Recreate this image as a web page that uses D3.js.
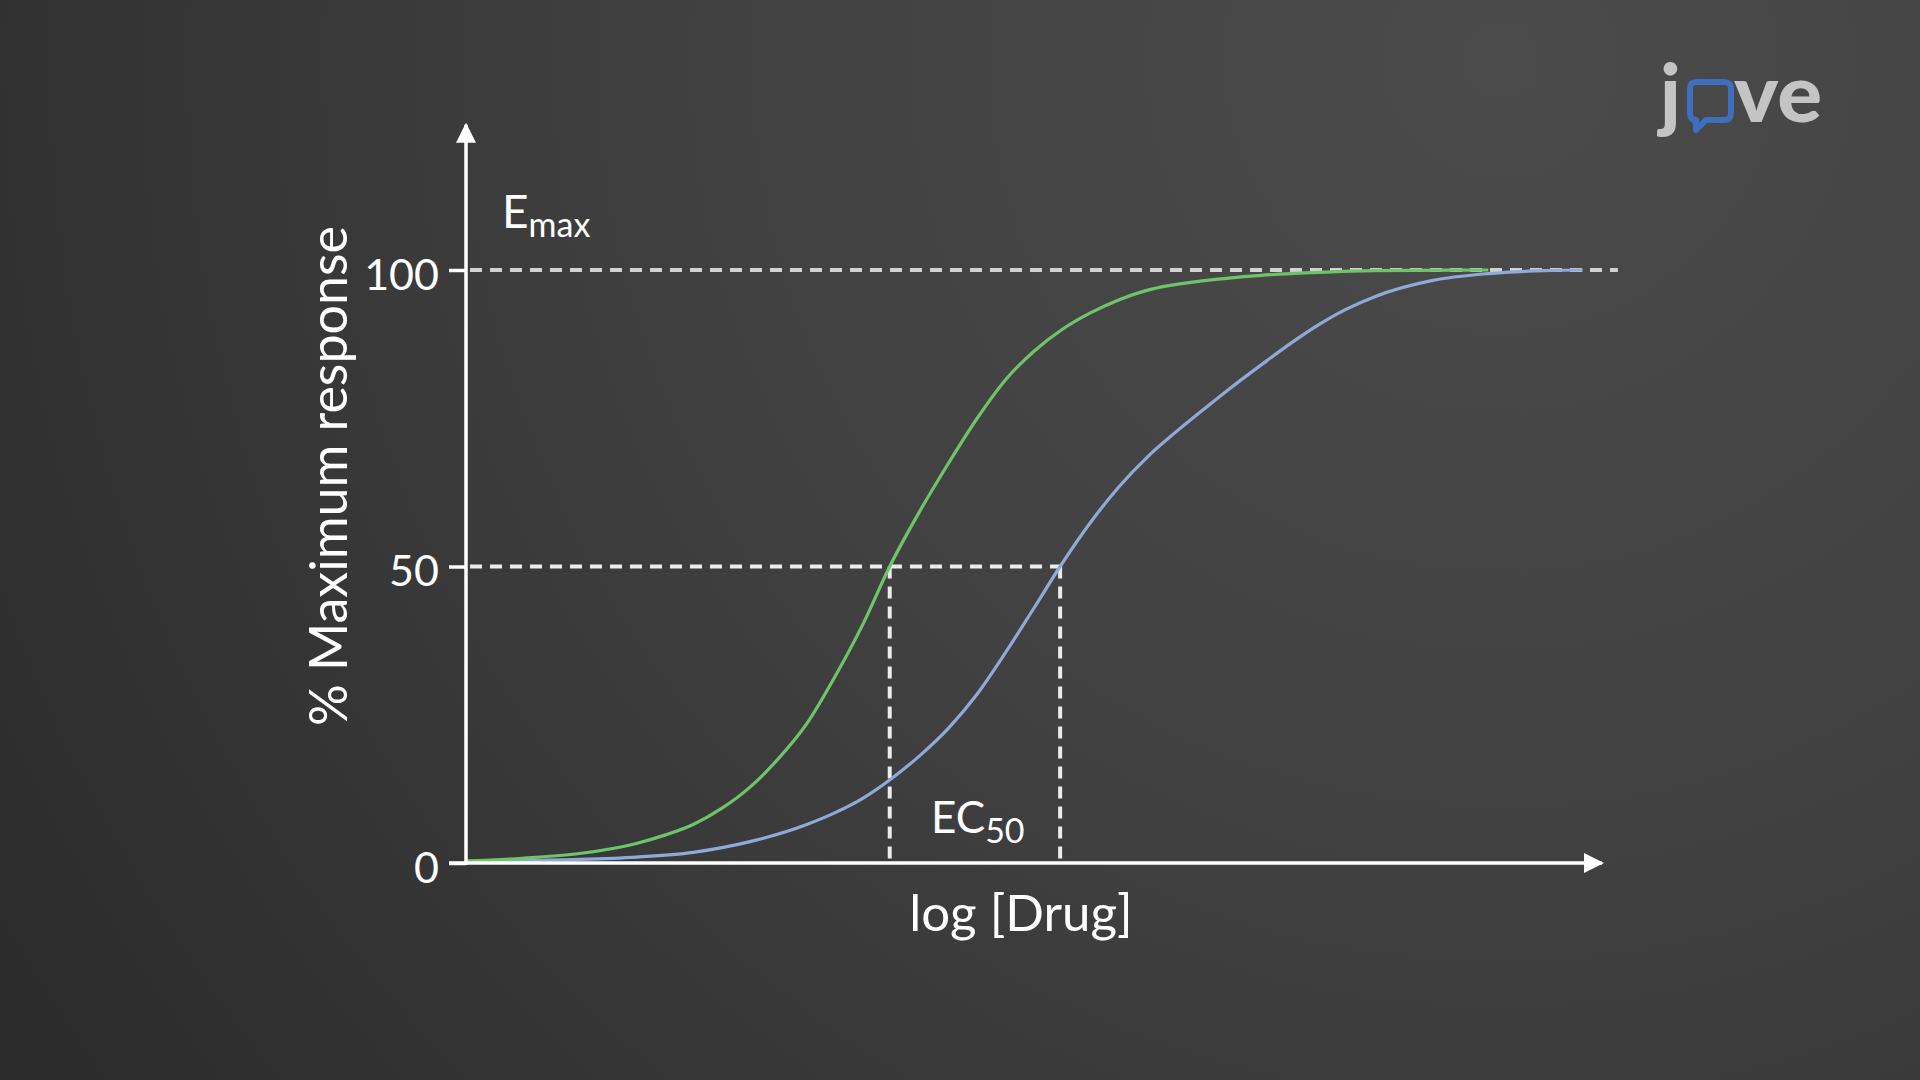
<!DOCTYPE html>
<html>
<head>
<meta charset="utf-8">
<script src="https://cdn.jsdelivr.net/npm/d3@7"></script>
<style>
  html, body { margin: 0; padding: 0; background: #3a3a3a; }
  svg { display: block; }
  text { font-family: Lato, "Open Sans", sans-serif; }
</style>
</head>
<body>
<script>
// ---- data (log[Drug] in arbitrary units, response in % of max) ----
const greenX = [0.0, 0.5, 1.0, 1.5, 1.75, 2.0, 2.25, 2.5, 2.75, 3.0, 3.25, 3.5, 3.73, 4.0, 4.25, 4.5, 4.75, 5.0, 5.25, 5.5, 5.75, 6.0, 6.5, 7.0, 7.5, 8.0, 9.0];
const greenY = [0.3, 0.8, 1.6, 3.3, 4.7, 6.5, 9.2, 12.8, 17.6, 23.5, 31.5, 40.5, 50.0, 59.5, 67.5, 75.0, 81.5, 86.3, 90.0, 92.8, 95.0, 96.6, 98.2, 99.1, 99.6, 99.9, 100.0];
const blueX  = [0.0, 1.0, 1.5, 2.0, 2.5, 3.0, 3.25, 3.5, 3.75, 4.0, 4.25, 4.5, 4.75, 5.0, 5.23, 5.5, 5.75, 6.0, 6.25, 6.5, 6.75, 7.0, 7.25, 7.5, 7.75, 8.0, 8.5, 9.0, 9.5, 9.83];
const blueY  = [0.3, 0.6, 1.0, 1.8, 3.6, 6.5, 8.5, 11.0, 14.3, 18.2, 22.8, 28.5, 35.5, 43.0, 50.0, 57.5, 63.5, 68.5, 72.7, 76.6, 80.4, 84.0, 87.5, 90.7, 93.4, 95.5, 98.2, 99.4, 99.9, 100.0];
const yTicks = [0, 50, 100];
const yTickLabels = ["0", "50", "100"];
const ec50Green = 3.73;
const ec50Blue = 5.23;
const emaxValue = 100;
const halfValue = 50;

const W = 1920, H = 1080;
const svg = d3.select("body").append("svg").attr("width", W).attr("height", H);

// background
const defs = svg.append("defs");
const rg = defs.append("radialGradient").attr("id", "bg")
  .attr("gradientUnits", "userSpaceOnUse")
  .attr("cx", 1500).attr("cy", 60).attr("r", 1750);
rg.append("stop").attr("offset", 0).attr("stop-color", "#4b4b4b");
rg.append("stop").attr("offset", 0.45).attr("stop-color", "#414141");
rg.append("stop").attr("offset", 1).attr("stop-color", "#2c2c2c");
svg.append("rect").attr("width", W).attr("height", H).attr("fill", "url(#bg)");

// arrow markers
const mk = defs.append("marker").attr("id", "arrow")
  .attr("viewBox", "0 0 10 10").attr("refX", 9).attr("refY", 5)
  .attr("markerUnits", "userSpaceOnUse")
  .attr("markerWidth", 20).attr("markerHeight", 20).attr("orient", "auto");
mk.append("path").attr("d", "M0,0 L10,5 L0,10 Z").attr("fill", "#ffffff");

// scales
const x = d3.scaleLinear().domain([0, 10]).range([466, 1602]);
const y = d3.scaleLinear().domain([0, 100]).range([863, 270]);

// dashed guide lines
const dashStyle = (sel, col) => sel.attr("stroke", col).attr("stroke-width", 4)
  .attr("stroke-dasharray", "12 8").attr("fill", "none");

svg.append("line").attr("x1", x(0) + 4).attr("x2", x(10.14))
  .attr("y1", y(emaxValue)).attr("y2", y(emaxValue))
  .call(dashStyle, "#d2d2d2");
svg.append("line").attr("x1", x(0) + 4).attr("x2", x(ec50Blue))
  .attr("y1", y(halfValue)).attr("y2", y(halfValue))
  .call(dashStyle, "#ececec");
[ec50Green, ec50Blue].forEach(v => {
  svg.append("line").attr("x1", x(v)).attr("x2", x(v))
    .attr("y1", y(halfValue)).attr("y2", y(0))
    .call(dashStyle, "#ececec");
});

// curves
const line = d3.line().x(d => x(d[0])).y(d => y(d[1])).curve(d3.curveMonotoneX);
const greenPts = greenX.map((v, i) => [v, greenY[i]]);
const bluePts = blueX.map((v, i) => [v, blueY[i]]);
svg.append("path").datum(bluePts).attr("d", line)
  .attr("fill", "none").attr("stroke", "#8eaad8").attr("stroke-width", 3.2);
svg.append("path").datum(greenPts).attr("d", line)
  .attr("fill", "none").attr("stroke", "#6fc46a").attr("stroke-width", 3.2);

// axes lines with arrows
svg.append("line").attr("x1", x(0)).attr("x2", x(0))
  .attr("y1", y(0) + 2).attr("y2", y(124.5))
  .attr("stroke", "#fff").attr("stroke-width", 3.5).attr("marker-end", "url(#arrow)");
svg.append("line").attr("x1", x(0) - 17).attr("x2", x(10))
  .attr("y1", y(0)).attr("y2", y(0))
  .attr("stroke", "#fff").attr("stroke-width", 3.5).attr("marker-end", "url(#arrow)");

// y axis ticks via d3.axisLeft
const yAxis = d3.axisLeft(y).tickValues(yTicks)
  .tickFormat((d, i) => yTickLabels[i]).tickSize(17).tickPadding(10);
const gy = svg.append("g").attr("transform", `translate(${x(0)},0)`).call(yAxis);
gy.select(".domain").remove();
gy.selectAll(".tick line").attr("stroke", "#fff").attr("stroke-width", 3.5);
gy.selectAll(".tick text").attr("fill", "#fff").attr("font-size", 43)
  .attr("font-family", "Lato, 'Open Sans', sans-serif").attr("dy", "0.45em");

// axis titles
svg.append("text").attr("transform", `translate(347,476) rotate(-90)`)
  .attr("text-anchor", "middle").attr("fill", "#fff").attr("font-size", 52)
  .text("% Maximum response");
svg.append("text").attr("x", 1021).attr("y", 931)
  .attr("text-anchor", "middle").attr("fill", "#fff").attr("font-size", 51)
  .text("log [Drug]");

// Emax label
const em = svg.append("text").attr("x", 502).attr("y", 228).attr("fill", "#fff").attr("font-size", 46);
em.append("tspan").text("E");
em.append("tspan").attr("font-size", 34).attr("dy", 9).text("max");

// EC50 label
const ec = svg.append("text").attr("x", 931).attr("y", 833).attr("fill", "#fff").attr("font-size", 44);
ec.append("tspan").text("EC");
ec.append("tspan").attr("font-size", 34).attr("dy", 10).text("50");

// jove logo
const logo = svg.append("g");
logo.append("text").attr("x", 1660).attr("y", 122).attr("fill", "#c4c4c4")
  .attr("font-size", 80).attr("font-weight", 900).attr("font-family", "Lato, sans-serif").text("j");
logo.append("path")
  .attr("d", "M1696,82 H1724 Q1731,82 1731,89 V113 Q1731,120 1724,120 H1706 L1696,130 V120 Q1690,120 1690,113 V89 Q1690,82 1696,82 Z")
  .attr("fill", "none").attr("stroke", "#3d6fbd").attr("stroke-width", 6).attr("stroke-linejoin", "round");
logo.append("text").attr("x", 1734).attr("y", 122).attr("fill", "#c4c4c4")
  .attr("font-size", 80).attr("font-weight", 900).attr("font-family", "Lato, sans-serif")
  .attr("textLength", 88).attr("lengthAdjust", "spacingAndGlyphs").text("ve");
</script>
</body>
</html>
